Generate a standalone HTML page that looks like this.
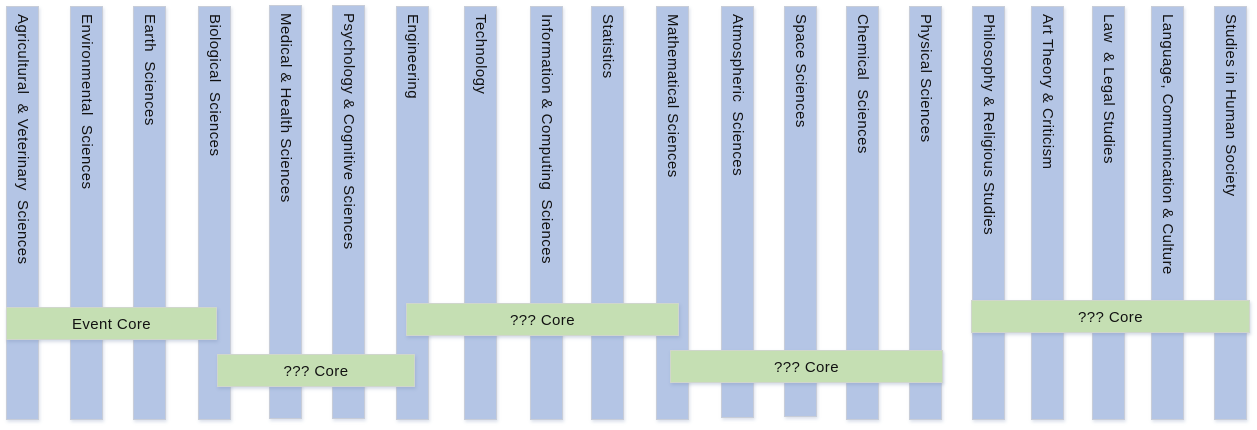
<!DOCTYPE html>
<html><head><meta charset="utf-8"><style>
body{margin:0;width:1257px;height:430px;background:#fff;position:relative;overflow:hidden;font-family:"Liberation Sans",sans-serif;}
.c{position:absolute;top:6px;width:33px;height:414px;background:#b4c5e5;border:1px solid #c8cdd8;box-sizing:border-box;box-shadow:1px 2px 3px rgba(120,140,180,.25);}
.c span{position:absolute;top:7px;left:50%;transform:translateX(-52%);writing-mode:vertical-rl;font-size:15px;letter-spacing:0.45px;color:#111;white-space:pre;line-height:16px;}
.g{position:absolute;height:33px;padding-top:2px;background:#c5dfb3;border:1px solid #d0d6cc;box-sizing:border-box;box-shadow:1px 2px 3px rgba(120,140,180,.3);font-size:15px;letter-spacing:0.4px;color:#111;display:flex;align-items:center;justify-content:center;}
</style></head><body>
<div class="c" style="left:6px"><span>Agricultural  &amp; Veterinary  Sciences</span></div>
<div class="c" style="left:70px"><span>Environmental  Sciences</span></div>
<div class="c" style="left:133px"><span>Earth  Sciences</span></div>
<div class="c" style="left:198px"><span>Biological  Sciences</span></div>
<div class="c" style="left:269px;top:5px"><span>Medical &amp; Health Sciences</span></div>
<div class="c" style="left:332px;top:5px"><span>Psychology &amp; Cognitive Sciences</span></div>
<div class="c" style="left:396px"><span>Engineering</span></div>
<div class="c" style="left:464px"><span>Technology</span></div>
<div class="c" style="left:530px"><span>Information &amp; Computing  Sciences</span></div>
<div class="c" style="left:591px"><span>Statistics</span></div>
<div class="c" style="left:656px"><span>Mathematical Sciences</span></div>
<div class="c" style="left:721px;height:412px"><span>Atmospheric  Sciences</span></div>
<div class="c" style="left:784px;height:411px"><span>Space Sciences</span></div>
<div class="c" style="left:846px"><span>Chemical  Sciences</span></div>
<div class="c" style="left:909px"><span>Physical Sciences</span></div>
<div class="c" style="left:972px"><span>Philosophy &amp; Religious Studies</span></div>
<div class="c" style="left:1031px"><span>Art Theory &amp; Criticism</span></div>
<div class="c" style="left:1092px"><span>Law  &amp; Legal Studies</span></div>
<div class="c" style="left:1151px"><span>Language, Communication &amp; Culture</span></div>
<div class="c" style="left:1214px"><span>Studies in Human Society</span></div>
<div class="g" style="left:6px;top:307px;width:211px">Event Core</div>
<div class="g" style="left:217px;top:354px;width:198px">??? Core</div>
<div class="g" style="left:406px;top:303px;width:273px">??? Core</div>
<div class="g" style="left:670px;top:350px;width:273px">??? Core</div>
<div class="g" style="left:971px;top:300px;width:279px">??? Core</div>
</body></html>
